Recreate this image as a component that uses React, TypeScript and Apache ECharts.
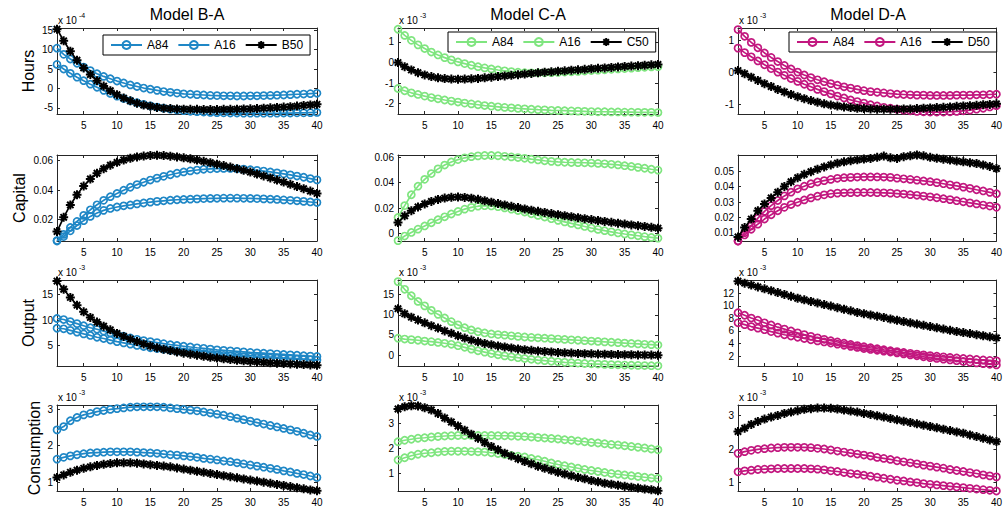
import React, { useEffect, useRef } from "react";
import * as echarts from "echarts";

// ---------- data ----------
const periods = [1, 2, 3, 4, 5, 6, 7, 8, 9, 10, 11, 12, 13, 14, 15, 16, 17, 18, 19, 20, 21, 22, 23, 24, 25, 26, 27, 28, 29, 30, 31, 32, 33, 34, 35, 36, 37, 38, 39, 40];
const xTicks = [5, 10, 15, 20, 25, 30, 35, 40];

const modelTitles = ["Model B-A", "Model C-A", "Model D-A"];
const rowLabels = ["Hours", "Capital", "Output", "Consumption"];
const seriesLabels = [
  ["A84", "A16", "B50"],
  ["A84", "A16", "C50"],
  ["A84", "A16", "D50"],
];

// Hours (B-A in 1e-4, C-A / D-A in 1e-3)
const hoursBA84 = [10.4, 8.8, 7.6, 6.5, 5.5, 4.6, 3.8, 3.1, 2.5, 1.9, 1.4, 0.9, 0.5, 0.1, -0.2, -0.5, -0.8, -1.0, -1.2, -1.4, -1.5, -1.6, -1.7, -1.8, -1.85, -1.9, -1.9, -1.95, -1.95, -1.9, -1.9, -1.85, -1.8, -1.75, -1.7, -1.6, -1.5, -1.45, -1.35, -1.25];
const hoursBA16 = [6.2, 5.0, 3.9, 2.9, 2.0, 1.1, 0.3, -0.5, -1.3, -2.0, -2.6, -3.2, -3.7, -4.1, -4.5, -4.8, -5.1, -5.35, -5.55, -5.75, -5.9, -6.0, -6.1, -6.2, -6.25, -6.3, -6.35, -6.35, -6.4, -6.4, -6.4, -6.4, -6.4, -6.4, -6.35, -6.35, -6.3, -6.3, -6.25, -6.2];
const hoursB50 = [15.3, 12.3, 9.6, 7.3, 5.3, 3.6, 2.0, 0.6, -0.6, -1.6, -2.5, -3.2, -3.8, -4.3, -4.6, -4.9, -5.1, -5.2, -5.3, -5.35, -5.4, -5.4, -5.45, -5.45, -5.45, -5.4, -5.4, -5.35, -5.3, -5.25, -5.2, -5.1, -5.0, -4.9, -4.8, -4.7, -4.55, -4.4, -4.25, -4.1];
const hoursCA84 = [1.62, 1.32, 1.08, 0.86, 0.68, 0.51, 0.37, 0.24, 0.13, 0.03, -0.05, -0.13, -0.2, -0.26, -0.31, -0.36, -0.4, -0.44, -0.47, -0.49, -0.5, -0.5, -0.5, -0.49, -0.48, -0.46, -0.45, -0.43, -0.41, -0.39, -0.37, -0.35, -0.33, -0.31, -0.29, -0.27, -0.25, -0.23, -0.21, -0.2];
const hoursCA16 = [-1.26, -1.37, -1.47, -1.55, -1.63, -1.7, -1.76, -1.82, -1.87, -1.92, -1.97, -2.01, -2.05, -2.09, -2.12, -2.15, -2.18, -2.2, -2.23, -2.25, -2.27, -2.29, -2.3, -2.32, -2.33, -2.34, -2.35, -2.36, -2.37, -2.38, -2.39, -2.39, -2.4, -2.4, -2.41, -2.41, -2.42, -2.42, -2.42, -2.43];
const hoursC50 = [0.0, -0.2, -0.36, -0.49, -0.6, -0.68, -0.74, -0.78, -0.8, -0.81, -0.8, -0.79, -0.77, -0.74, -0.71, -0.68, -0.65, -0.62, -0.59, -0.56, -0.53, -0.5, -0.47, -0.45, -0.42, -0.4, -0.37, -0.35, -0.33, -0.3, -0.28, -0.26, -0.24, -0.21, -0.19, -0.17, -0.15, -0.13, -0.11, -0.09];
const hoursDA84 = [1.33, 1.12, 0.93, 0.76, 0.6, 0.46, 0.33, 0.21, 0.1, 0.0, -0.09, -0.17, -0.24, -0.3, -0.36, -0.41, -0.46, -0.5, -0.54, -0.58, -0.61, -0.63, -0.65, -0.67, -0.69, -0.7, -0.71, -0.72, -0.72, -0.73, -0.73, -0.73, -0.73, -0.72, -0.72, -0.72, -0.71, -0.71, -0.7, -0.69];
const hoursDA16 = [0.75, 0.61, 0.48, 0.35, 0.23, 0.11, 0.0, -0.1, -0.2, -0.29, -0.38, -0.46, -0.54, -0.61, -0.68, -0.75, -0.81, -0.87, -0.92, -0.97, -1.02, -1.06, -1.1, -1.13, -1.16, -1.19, -1.21, -1.23, -1.24, -1.25, -1.25, -1.25, -1.24, -1.23, -1.21, -1.19, -1.16, -1.13, -1.09, -1.05];
const hoursD50 = [0.05, -0.05, -0.16, -0.26, -0.36, -0.45, -0.54, -0.62, -0.7, -0.77, -0.83, -0.89, -0.94, -0.99, -1.03, -1.06, -1.09, -1.11, -1.13, -1.14, -1.15, -1.16, -1.16, -1.16, -1.16, -1.15, -1.15, -1.14, -1.13, -1.12, -1.11, -1.1, -1.09, -1.07, -1.06, -1.05, -1.04, -1.02, -1.01, -0.99];

// Capital
const capitalBA84 = [0.0058, 0.01, 0.0147, 0.0188, 0.0229, 0.0267, 0.0301, 0.0331, 0.0356, 0.0378, 0.04, 0.042, 0.0438, 0.0454, 0.0469, 0.0482, 0.0494, 0.0505, 0.0515, 0.0524, 0.0531, 0.0537, 0.0542, 0.0545, 0.0547, 0.0548, 0.0548, 0.0546, 0.0543, 0.0539, 0.0535, 0.053, 0.0524, 0.0518, 0.0511, 0.0504, 0.0496, 0.0488, 0.0479, 0.047];
const capitalBA16 = [0.0055, 0.0085, 0.0124, 0.016, 0.0193, 0.0222, 0.0245, 0.0263, 0.0276, 0.0286, 0.0294, 0.03, 0.0307, 0.0313, 0.0319, 0.0324, 0.0328, 0.0332, 0.0335, 0.0337, 0.0339, 0.0341, 0.0343, 0.0344, 0.0345, 0.0346, 0.0346, 0.0346, 0.0345, 0.0344, 0.0343, 0.0341, 0.0339, 0.0337, 0.0334, 0.0331, 0.0328, 0.0324, 0.032, 0.0316];
const capitalB50 = [0.0119, 0.0216, 0.03, 0.0369, 0.0428, 0.0476, 0.0515, 0.0546, 0.057, 0.0589, 0.0605, 0.0617, 0.0626, 0.0632, 0.0636, 0.0637, 0.0635, 0.0631, 0.0626, 0.062, 0.0613, 0.0605, 0.0596, 0.0587, 0.0577, 0.0567, 0.0557, 0.0546, 0.0535, 0.0523, 0.051, 0.0497, 0.0483, 0.0469, 0.0455, 0.044, 0.0425, 0.041, 0.0394, 0.0378];
const capitalCA84 = [0.0127, 0.022, 0.0305, 0.0372, 0.0426, 0.0471, 0.0508, 0.0538, 0.0562, 0.0581, 0.0595, 0.0604, 0.061, 0.0613, 0.0613, 0.0611, 0.0607, 0.0602, 0.0597, 0.0591, 0.0584, 0.0578, 0.0572, 0.0567, 0.0563, 0.056, 0.0558, 0.0557, 0.0556, 0.0554, 0.0551, 0.0548, 0.0544, 0.0539, 0.0533, 0.0527, 0.052, 0.0513, 0.0505, 0.0498];
const capitalCA16 = [-0.0055, -0.0019, 0.0009, 0.0035, 0.006, 0.0085, 0.0109, 0.0132, 0.0154, 0.0174, 0.0192, 0.0206, 0.0215, 0.0219, 0.0217, 0.0211, 0.0202, 0.0192, 0.0181, 0.0169, 0.0156, 0.0143, 0.013, 0.0117, 0.0104, 0.0092, 0.008, 0.0068, 0.0056, 0.0044, 0.0033, 0.0023, 0.0014, 0.0005, -0.0003, -0.001, -0.0017, -0.0024, -0.003, -0.0036];
const capitalC50 = [0.0087, 0.014, 0.018, 0.0209, 0.0233, 0.0253, 0.0268, 0.0279, 0.0285, 0.0287, 0.0284, 0.0278, 0.0269, 0.0258, 0.0247, 0.0236, 0.0225, 0.0214, 0.0204, 0.0194, 0.0184, 0.0175, 0.0166, 0.0157, 0.0149, 0.0141, 0.0133, 0.0125, 0.0117, 0.011, 0.0103, 0.0096, 0.0089, 0.0082, 0.0075, 0.0068, 0.0062, 0.0056, 0.0049, 0.0043];
const capitalDA84 = [0.0048, 0.0102, 0.0146, 0.0196, 0.024, 0.0277, 0.031, 0.034, 0.0364, 0.0386, 0.0403, 0.0419, 0.043, 0.0439, 0.0447, 0.0454, 0.0458, 0.046, 0.0462, 0.0463, 0.0463, 0.0463, 0.0462, 0.046, 0.0455, 0.0451, 0.0447, 0.0442, 0.0437, 0.0432, 0.0426, 0.0419, 0.0412, 0.0405, 0.0397, 0.0389, 0.038, 0.0372, 0.0363, 0.0354];
const capitalDA16 = [0.0048, 0.0087, 0.0124, 0.0157, 0.019, 0.0218, 0.0244, 0.0266, 0.0284, 0.0299, 0.0314, 0.0327, 0.0338, 0.0347, 0.0354, 0.0358, 0.036, 0.0361, 0.0362, 0.0362, 0.0362, 0.0361, 0.036, 0.0358, 0.0355, 0.0352, 0.0348, 0.0344, 0.0339, 0.0334, 0.0328, 0.0322, 0.0316, 0.0309, 0.0302, 0.0295, 0.0288, 0.0281, 0.0274, 0.0266];
const capitalD50 = [0.0074, 0.0135, 0.019, 0.0244, 0.0288, 0.0327, 0.0364, 0.0401, 0.0432, 0.0458, 0.048, 0.0497, 0.0513, 0.0528, 0.0541, 0.0552, 0.0561, 0.0568, 0.0574, 0.0579, 0.0583, 0.059, 0.0598, 0.0587, 0.0583, 0.0594, 0.06, 0.0605, 0.06, 0.059, 0.0584, 0.0578, 0.0572, 0.0566, 0.0561, 0.0555, 0.055, 0.0541, 0.0531, 0.0517];

// Output (1e-3)
const outputBA84 = [10.3, 10.1, 9.7, 9.3, 8.9, 8.5, 8.2, 7.85, 7.5, 7.2, 6.85, 6.5, 6.25, 6.0, 5.8, 5.6, 5.4, 5.2, 5.05, 4.9, 4.75, 4.6, 4.5, 4.35, 4.2, 4.1, 4.0, 3.9, 3.8, 3.7, 3.62, 3.54, 3.46, 3.38, 3.3, 3.22, 3.14, 3.06, 2.98, 2.9];
const outputBA16 = [8.4, 8.3, 8.0, 7.65, 7.3, 7.0, 6.65, 6.4, 6.1, 5.8, 5.55, 5.3, 5.05, 4.85, 4.6, 4.45, 4.3, 4.1, 3.95, 3.8, 3.68, 3.56, 3.44, 3.32, 3.2, 3.12, 3.04, 2.96, 2.88, 2.8, 2.74, 2.68, 2.62, 2.56, 2.5, 2.44, 2.38, 2.32, 2.26, 2.2];
const outputB50 = [17.6, 16.0, 14.4, 12.9, 11.6, 10.5, 9.6, 8.8, 8.1, 7.4, 6.8, 6.3, 5.8, 5.35, 4.95, 4.6, 4.3, 4.05, 3.8, 3.55, 3.35, 3.15, 2.95, 2.75, 2.6, 2.45, 2.3, 2.17, 2.05, 1.95, 1.85, 1.76, 1.68, 1.6, 1.52, 1.45, 1.38, 1.32, 1.26, 1.2];
const outputCA84 = [18.2, 16.3, 14.7, 13.3, 12.2, 11.1, 10.1, 9.2, 8.3, 7.5, 6.8, 6.25, 5.8, 5.5, 5.25, 5.1, 4.95, 4.8, 4.65, 4.5, 4.4, 4.3, 4.2, 4.1, 4.0, 3.9, 3.8, 3.7, 3.6, 3.5, 3.4, 3.3, 3.2, 3.1, 3.0, 2.9, 2.8, 2.7, 2.6, 2.5];
const outputCA16 = [4.2, 4.0, 3.85, 3.7, 3.5, 3.35, 3.15, 2.95, 2.7, 2.35, 1.95, 1.5, 1.1, 0.75, 0.4, 0.1, -0.17, -0.4, -0.62, -0.83, -1.02, -1.2, -1.35, -1.5, -1.63, -1.75, -1.85, -1.95, -2.05, -2.13, -2.2, -2.27, -2.33, -2.38, -2.43, -2.48, -2.52, -2.56, -2.6, -2.63];
const outputC50 = [11.5, 10.25, 9.4, 8.7, 8.0, 7.3, 6.7, 6.0, 5.4, 4.8, 4.25, 3.75, 3.3, 2.9, 2.6, 2.3, 2.05, 1.8, 1.55, 1.35, 1.2, 1.05, 0.92, 0.8, 0.68, 0.6, 0.52, 0.45, 0.38, 0.33, 0.28, 0.24, 0.2, 0.17, 0.14, 0.11, 0.08, 0.05, 0.03, 0.0];
const outputDA84 = [8.9, 8.5, 8.05, 7.7, 7.3, 6.95, 6.6, 6.3, 6.0, 5.7, 5.42, 5.15, 4.9, 4.67, 4.45, 4.25, 4.05, 3.86, 3.68, 3.5, 3.33, 3.17, 3.01, 2.86, 2.72, 2.58, 2.45, 2.32, 2.2, 2.08, 1.98, 1.88, 1.79, 1.7, 1.62, 1.54, 1.46, 1.39, 1.32, 1.25];
const outputDA16 = [7.3, 7.0, 6.7, 6.45, 6.2, 5.9, 5.65, 5.4, 5.2, 5.0, 4.8, 4.6, 4.42, 4.25, 4.08, 3.9, 3.72, 3.55, 3.38, 3.2, 3.06, 2.92, 2.78, 2.64, 2.5, 2.35, 2.2, 2.05, 1.9, 1.75, 1.63, 1.51, 1.39, 1.27, 1.15, 1.03, 0.92, 0.81, 0.7, 0.6];
const outputD50 = [13.9, 13.6, 13.3, 13.0, 12.7, 12.4, 12.1, 11.8, 11.5, 11.2, 10.95, 10.7, 10.45, 10.2, 9.95, 9.7, 9.45, 9.2, 8.95, 8.75, 8.55, 8.35, 8.15, 7.9, 7.7, 7.5, 7.3, 7.1, 6.9, 6.7, 6.5, 6.3, 6.1, 5.9, 5.75, 5.58, 5.41, 5.24, 5.07, 4.9];

// Consumption (1e-3)
const consBA84 = [2.43, 2.52, 2.68, 2.77, 2.84, 2.88, 2.93, 2.96, 2.99, 3.01, 3.03, 3.05, 3.06, 3.06, 3.06, 3.06, 3.05, 3.03, 3.01, 2.99, 2.97, 2.95, 2.92, 2.89, 2.86, 2.83, 2.79, 2.75, 2.71, 2.67, 2.63, 2.59, 2.55, 2.51, 2.47, 2.43, 2.39, 2.34, 2.29, 2.25];
const consBA16 = [1.63, 1.68, 1.72, 1.75, 1.78, 1.8, 1.81, 1.82, 1.83, 1.83, 1.83, 1.83, 1.82, 1.81, 1.8, 1.79, 1.77, 1.75, 1.74, 1.72, 1.7, 1.68, 1.65, 1.63, 1.61, 1.58, 1.56, 1.53, 1.5, 1.47, 1.44, 1.41, 1.38, 1.35, 1.31, 1.28, 1.24, 1.21, 1.17, 1.13];
const consB50 = [1.13, 1.2, 1.27, 1.33, 1.38, 1.42, 1.46, 1.49, 1.51, 1.53, 1.53, 1.53, 1.52, 1.5, 1.48, 1.46, 1.44, 1.42, 1.39, 1.36, 1.33, 1.3, 1.27, 1.24, 1.21, 1.18, 1.15, 1.12, 1.09, 1.06, 1.03, 1.0, 0.97, 0.94, 0.91, 0.88, 0.85, 0.82, 0.79, 0.77];
const consCA84 = [2.25, 2.31, 2.35, 2.39, 2.41, 2.44, 2.46, 2.48, 2.49, 2.5, 2.5, 2.5, 2.5, 2.5, 2.5, 2.49, 2.49, 2.48, 2.47, 2.46, 2.44, 2.42, 2.4, 2.38, 2.36, 2.33, 2.31, 2.28, 2.25, 2.22, 2.2, 2.17, 2.14, 2.12, 2.09, 2.06, 2.03, 2.0, 1.96, 1.93];
const consCA16 = [1.52, 1.61, 1.69, 1.75, 1.79, 1.81, 1.84, 1.86, 1.87, 1.87, 1.87, 1.86, 1.85, 1.84, 1.81, 1.78, 1.74, 1.7, 1.67, 1.64, 1.58, 1.53, 1.47, 1.4, 1.34, 1.29, 1.24, 1.19, 1.14, 1.1, 1.06, 1.02, 0.98, 0.95, 0.92, 0.89, 0.86, 0.83, 0.8, 0.78];
const consC50 = [3.56, 3.65, 3.69, 3.68, 3.61, 3.52, 3.38, 3.2, 3.04, 2.88, 2.71, 2.55, 2.39, 2.22, 2.06, 1.93, 1.79, 1.68, 1.57, 1.46, 1.37, 1.27, 1.19, 1.11, 1.03, 0.96, 0.89, 0.82, 0.77, 0.7, 0.65, 0.59, 0.55, 0.51, 0.47, 0.43, 0.4, 0.36, 0.33, 0.29];
const consDA84 = [1.87, 1.92, 1.96, 1.99, 2.01, 2.03, 2.04, 2.05, 2.05, 2.05, 2.05, 2.04, 2.02, 2.0, 1.97, 1.94, 1.91, 1.88, 1.85, 1.82, 1.79, 1.75, 1.72, 1.69, 1.65, 1.62, 1.59, 1.56, 1.52, 1.49, 1.46, 1.43, 1.39, 1.36, 1.33, 1.3, 1.27, 1.23, 1.2, 1.17];
const consDA16 = [1.32, 1.35, 1.37, 1.39, 1.4, 1.41, 1.42, 1.42, 1.42, 1.42, 1.42, 1.41, 1.4, 1.38, 1.35, 1.33, 1.3, 1.27, 1.25, 1.22, 1.19, 1.16, 1.13, 1.1, 1.07, 1.05, 1.02, 1.0, 0.97, 0.95, 0.93, 0.91, 0.89, 0.87, 0.85, 0.83, 0.81, 0.79, 0.77, 0.75];
const consD50 = [2.52, 2.62, 2.73, 2.82, 2.89, 2.95, 3.0, 3.06, 3.1, 3.14, 3.18, 3.2, 3.22, 3.22, 3.21, 3.19, 3.16, 3.13, 3.1, 3.06, 3.03, 2.99, 2.95, 2.91, 2.87, 2.83, 2.79, 2.75, 2.71, 2.67, 2.63, 2.59, 2.55, 2.51, 2.47, 2.42, 2.37, 2.32, 2.27, 2.22];

// y tick labels per panel [row][col]
const yTicks = [
  [[-5, 0, 5, 10, 15], [-2, -1, 0, 1], [-1, 0, 1]],
  [[0.02, 0.04, 0.06], [0, 0.02, 0.04, 0.06], [0.01, 0.02, 0.03, 0.04, 0.05]],
  [[5, 10, 15], [0, 5, 10, 15], [2, 4, 6, 8, 10, 12]],
  [[1, 2, 3], [1, 2, 3], [1, 2, 3]],
];
// axis limits per panel [row][col]
const yLimits = [
  [[-6.6, 15.6], [-2.5, 1.68], [-1.31, 1.38]],
  [[0.0055, 0.0639], [-0.0058, 0.0617], [0.0048, 0.0605]],
  [[1.05, 17.8], [-2.67, 18.6], [0.43, 14.1]],
  [[0.76, 3.11], [0.28, 3.72], [0.75, 3.31]],
];
// scale exponent shown above each panel
const exponents = [
  ["-4", "-3", "-3"],
  [null, null, null],
  ["-3", "-3", "-3"],
  ["-3", "-3", "-3"],
];

const panels = [
  [[hoursBA84, hoursBA16, hoursB50], [hoursCA84, hoursCA16, hoursC50], [hoursDA84, hoursDA16, hoursD50]],
  [[capitalBA84, capitalBA16, capitalB50], [capitalCA84, capitalCA16, capitalC50], [capitalDA84, capitalDA16, capitalD50]],
  [[outputBA84, outputBA16, outputB50], [outputCA84, outputCA16, outputC50], [outputDA84, outputDA16, outputD50]],
  [[consBA84, consBA16, consB50], [consCA84, consCA16, consC50], [consDA84, consDA16, consD50]],
];

// ---------- styling / layout ----------
const FONT = "'Liberation Sans', Arial, Helvetica, sans-serif";
const INK = "#262626";
const colColors = ["#1f87c6", "#7fe57f", "#c2177f"];
const ASTERISK = "path://M0,-10L0,10M-10,0L10,0M-7.07,-7.07L7.07,7.07M-7.07,7.07L7.07,-7.07";
const gridLeft = [57, 398, 738];
const gridWidth = 260;
const gridTop = [28, 155, 280, 405];
const gridHeight = 86;
const legendPos = [
  { left: 103, top: 35 },
  { left: 448, top: 32 },
  { left: 789, top: 32 },
];
const rowLabelX = [28, 19, 28, 34];

function fmt(v: number) {
  return String(Math.round(v * 10000) / 10000);
}

function buildOption() {
  const grid: any[] = [];
  const xAxis: any[] = [];
  const yAxis: any[] = [];
  const topAxes: any[] = [];
  const rightAxes: any[] = [];
  const series: any[] = [];
  const legend: any[] = [];
  const graphic: any[] = [];

  for (let r = 0; r < 4; r++) {
    for (let c = 0; c < 3; c++) {
      const g = r * 3 + c;
      grid.push({ left: gridLeft[c], top: gridTop[r], width: gridWidth, height: gridHeight, containLabel: false });
      const [ymin, ymax] = yLimits[r][c];
      const line = { show: true, onZero: false, lineStyle: { color: INK, width: 1 } };
      xAxis.push({
        type: "value", gridIndex: g, position: "bottom", min: 1, max: 40,
        axisLine: line,
        axisTick: { show: true, inside: true, length: 3, customValues: xTicks, lineStyle: { color: INK } },
        axisLabel: { show: true, customValues: xTicks, margin: 6, fontSize: 10, fontFamily: FONT, color: "#000" },
        splitLine: { show: false },
      });
      topAxes.push({
        type: "value", gridIndex: g, position: "top", min: 1, max: 40,
        axisLine: line,
        axisTick: { show: true, inside: true, length: 3, customValues: xTicks, lineStyle: { color: INK } },
        axisLabel: { show: false },
        splitLine: { show: false },
      });
      yAxis.push({
        type: "value", gridIndex: g, position: "left", min: ymin, max: ymax,
        axisLine: line,
        axisTick: { show: true, inside: true, length: 3, customValues: yTicks[r][c], lineStyle: { color: INK } },
        axisLabel: { show: true, customValues: yTicks[r][c], margin: 4, fontSize: 10, fontFamily: FONT, color: "#000", formatter: (v: number) => fmt(v) },
        splitLine: { show: false },
      });
      rightAxes.push({
        type: "value", gridIndex: g, position: "right", min: ymin, max: ymax,
        axisLine: line,
        axisTick: { show: true, inside: true, length: 3, customValues: yTicks[r][c], lineStyle: { color: INK } },
        axisLabel: { show: false },
        splitLine: { show: false },
      });

      const color = colColors[c];
      const labels = seriesLabels[c];
      const names: string[] = [];
      panels[r][c].forEach((vals, k) => {
        const name = r === 0 ? `${c}|${labels[k]}` : `${c}|${labels[k]}|${r}`;
        names.push(name);
        const isMedian = k === 2;
        const col = isMedian ? "#000" : color;
        series.push({
          type: "line",
          name,
          xAxisIndex: g,
          yAxisIndex: g,
          data: periods.map((p, i) => [p, vals[i]]),
          symbol: isMedian ? ASTERISK : "circle",
          symbolSize: isMedian ? 9 : 7,
          showSymbol: true,
          showAllSymbol: true,
          clip: true,
          silent: true,
          z: 2 + k,
          lineStyle: { color: col, width: 1.7 },
          itemStyle: isMedian
            ? { color: "#000", borderColor: "#000", borderWidth: 2 }
            : { color: "rgba(255,255,255,0)", borderColor: col, borderWidth: 1.7 },
          emphasis: { disabled: true },
        });
      });

      if (r === 0) {
        legend.push({
          show: true,
          left: legendPos[c].left,
          top: legendPos[c].top,
          orient: "horizontal",
          data: names,
          formatter: (n: string) => n.split("|")[1],
          itemWidth: 31,
          itemHeight: 10,
          itemGap: 9,
          padding: [4, 7, 4, 7],
          borderColor: "#000",
          borderWidth: 1,
          backgroundColor: "#fff",
          selectedMode: false,
          textStyle: { fontSize: 12, fontFamily: FONT, color: "#000" },
        });
        graphic.push({
          type: "text",
          x: gridLeft[c] + gridWidth / 2,
          y: 14,
          style: { text: modelTitles[c], fontSize: 16, fontFamily: FONT, fill: "#000", align: "center", verticalAlign: "middle" },
        });
      }

      const exp = exponents[r][c];
      if (exp) {
        graphic.push({
          type: "text",
          x: gridLeft[c] + 1,
          y: gridTop[r] - 7.5,
          style: { text: "x 10", fontSize: 10, fontFamily: FONT, fill: "#000", align: "left", verticalAlign: "middle" },
        });
        graphic.push({
          type: "text",
          x: gridLeft[c] + 22,
          y: gridTop[r] - 13,
          style: { text: exp, fontSize: 7, fontFamily: FONT, fill: "#000", align: "left", verticalAlign: "middle" },
        });
      }
    }
    graphic.push({
      type: "text",
      x: rowLabelX[r],
      y: gridTop[r] + gridHeight / 2,
      rotation: Math.PI / 2,
      style: { text: rowLabels[r], fontSize: 16, fontFamily: FONT, fill: "#000", align: "center", verticalAlign: "middle" },
    });
  }

  return {
    animation: false,
    backgroundColor: "#fff",
    grid,
    xAxis: [...xAxis, ...topAxes],
    yAxis: [...yAxis, ...rightAxes],
    legend,
    series,
    graphic,
  };
}

export default function App() {
  const ref = useRef<HTMLDivElement>(null);
  useEffect(() => {
    if (!ref.current) return;
    const chart = echarts.init(ref.current, undefined, { renderer: "svg" });
    chart.setOption(buildOption() as any);
    return () => chart.dispose();
  }, []);
  return (
    <div
      ref={ref}
      style={{ position: "absolute", left: 0, top: 0, width: 1005, height: 508, background: "#fff" }}
    />
  );
}
